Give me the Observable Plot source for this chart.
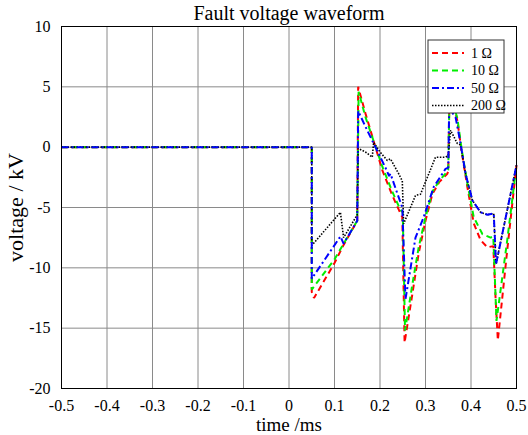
<!DOCTYPE html>
<html>
<head>
<meta charset="utf-8">
<script src="https://cdn.jsdelivr.net/npm/d3@7"></script>
<script src="https://cdn.jsdelivr.net/npm/@observablehq/plot@0.6"></script>
<style>
  html, body { margin: 0; padding: 0; background: white; }
  svg text { font-family: 'Liberation Serif', 'Times New Roman', serif; }
</style>
</head>
<body>
<div id="chart"></div>
<script>
const title = "Fault voltage waveform";
const xLabel = "time /ms";
const yLabel = "voltage / kV";
const xTicks = [-0.5, -0.4, -0.3, -0.2, -0.1, 0, 0.1, 0.2, 0.3, 0.4, 0.5];
const yTicks = [10, 5, 0, -5, -10, -15, -20];
const seriesNames = ["1 Ω", "10 Ω", "50 Ω", "200 Ω"];

// 1 Ω
const x1 = [-0.5, 0.05, 0.05, 0.055, 0.1, 0.12, 0.15, 0.152, 0.168, 0.205, 0.226, 0.245, 0.249, 0.254, 0.271, 0.285, 0.3, 0.315, 0.33, 0.348, 0.35, 0.353, 0.37, 0.38, 0.392, 0.406, 0.421, 0.436, 0.449, 0.454, 0.459, 0.48, 0.5];
const y1 = [0, 0, -12, -12.5, -9.6, -8.1, -6.1, 5.0, 2.8, -1.9, -3.9, -5.5, -5.8, -16.2, -12.2, -8.8, -6.1, -3.9, -2.9, -2.2, -2.0, 5.0, 2.2, -0.5, -3.3, -6.3, -7.7, -8.3, -8.2, -12.5, -16.0, -8.4, -1.5];

// 10 Ω
const x2 = [-0.5, 0.05, 0.05, 0.1, 0.12, 0.15, 0.153, 0.168, 0.205, 0.226, 0.245, 0.25, 0.255, 0.271, 0.285, 0.3, 0.315, 0.33, 0.348, 0.35, 0.353, 0.37, 0.38, 0.392, 0.406, 0.425, 0.443, 0.449, 0.456, 0.48, 0.5];
const y2 = [0, 0, -11.8, -9.3, -8.0, -6.1, 4.6, 2.5, -1.6, -3.6, -5.2, -5.4, -15.2, -11.4, -8.3, -5.8, -3.7, -2.8, -2.0, -1.9, 4.6, 2.4, -0.3, -3.0, -5.8, -7.2, -7.5, -7.4, -14.4, -7.6, -1.5];

// 50 Ω
const x3 = [-0.5, 0.05, 0.05, 0.113, 0.12, 0.15, 0.152, 0.168, 0.19, 0.212, 0.22, 0.223, 0.235, 0.249, 0.256, 0.278, 0.296, 0.318, 0.344, 0.35, 0.352, 0.366, 0.377, 0.388, 0.403, 0.421, 0.436, 0.45, 0.455, 0.5];
const y3 = [0, 0, -10.9, -7.4, -8.0, -6.1, 3.0, 1.7, 0, -1.7, -2.4, -2.2, -3.5, -5.0, -12.6, -7.5, -5.8, -3.3, -1.8, -1.7, 3.2, 2.5, 0.3, -2.2, -4.4, -5.4, -5.6, -5.5, -9.7, -1.5];

// 200 Ω
const x4 = [-0.5, 0.05, 0.05, 0.113, 0.12, 0.15, 0.152, 0.168, 0.183, 0.186, 0.2, 0.216, 0.223, 0.241, 0.249, 0.252, 0.278, 0.289, 0.322, 0.344, 0.35, 0.355, 0.37, 0.377, 0.388, 0.403, 0.421, 0.436, 0.45, 0.455, 0.5];
const y4 = [0, 0, -8.15, -5.4, -7.5, -5.6, -0.1, -0.4, -0.83, 0.4, -0.4, -1.1, -0.97, -2.2, -2.8, -6.35, -4.0, -3.9, -0.83, -0.83, -0.7, 1.4, 0.3, 0.2, -2.2, -4.4, -5.4, -5.6, -5.5, -9.7, -1.5];

const colors = ["#ff0000", "#00ee00", "#0000ff", "#000000"];
const dashes = ["6,4", "6,4", "7,3,2,3", "1.5,1.5"];
const widths = [2, 2, 2, 1.6];

const xs = [x1, x2, x3, x4];
const ys = [y1, y2, y3, y4];
const rows = [];
seriesNames.forEach((name, i) => {
  xs[i].forEach((x, j) => rows.push({series: name, t: x, v: ys[i][j]}));
});

const drawOrder = [0, 1, 3, 2];
const lineMarks = drawOrder.map(i =>
  Plot.line(rows.filter(r => r.series === seriesNames[i]), {
    x: "t", y: "v", stroke: colors[i], strokeWidth: widths[i],
    strokeDasharray: dashes[i], strokeLinejoin: "miter", strokeLinecap: "butt", curve: "linear"
  })
);

const fmt = d => String(+d.toFixed(1));
const serif = "'Liberation Serif', 'Times New Roman', serif";

const chart = Plot.plot({
  width: 528,
  height: 435,
  marginLeft: 61,
  marginRight: 12,
  marginTop: 26,
  marginBottom: 47,
  style: {fontFamily: serif, fontSize: "16px", background: "white", color: "black"},
  x: {domain: [-0.5, 0.5]},
  y: {domain: [-20, 10]},
  marks: [
    Plot.gridX(xTicks, {stroke: "#8a8a8a", strokeOpacity: 1, strokeWidth: 1}),
    Plot.gridY(yTicks, {stroke: "#8a8a8a", strokeOpacity: 1, strokeWidth: 1}),
    Plot.axisX(xTicks, {tickSize: 0, tickPadding: 11, tickFormat: fmt, label: null, fontSize: 16, fontFamily: serif, fontVariant: "normal"}),
    Plot.axisY(yTicks, {tickSize: 0, tickPadding: 11, tickFormat: d => String(d), label: null, fontSize: 16, fontFamily: serif, fontVariant: "normal"}),
    ...lineMarks,
    Plot.frame({stroke: "black", strokeWidth: 1}),
    Plot.text([title], {frameAnchor: "top", dy: -13, fontSize: 20, fontFamily: serif, textAnchor: "middle", lineAnchor: "middle"}),
    Plot.text([xLabel], {frameAnchor: "bottom", dy: 36, fontSize: 19, fontFamily: serif, textAnchor: "middle", lineAnchor: "middle"}),
    Plot.text([yLabel], {frameAnchor: "left", dx: -46, rotate: -90, fontSize: 22, fontFamily: serif, textAnchor: "middle", lineAnchor: "middle"})
  ]
});

document.getElementById("chart").appendChild(chart);

// Legend box (upper right, inside the plot)
const svg = d3.select(chart);
const lg = svg.append("g").attr("font-family", serif).attr("font-size", 14).attr("text-anchor", "start");
const bx = 428, by = 40, bw = 76, bh = 73;
lg.append("rect").attr("x", bx).attr("y", by).attr("width", bw).attr("height", bh)
  .attr("fill", "white").attr("stroke", "#333").attr("stroke-width", 1);
const rowY = [53, 70.5, 88, 105.5];
seriesNames.forEach((name, i) => {
  lg.append("line").attr("x1", bx + 4).attr("x2", bx + 36).attr("y1", rowY[i]).attr("y2", rowY[i])
    .attr("stroke", colors[i]).attr("stroke-width", widths[i]).attr("stroke-dasharray", dashes[i]);
  lg.append("text").attr("x", bx + 43).attr("y", rowY[i]).attr("dy", "0.35em")
    .attr("text-anchor", "start").attr("fill", "black").text(name);
});
</script>
</body>
</html>
